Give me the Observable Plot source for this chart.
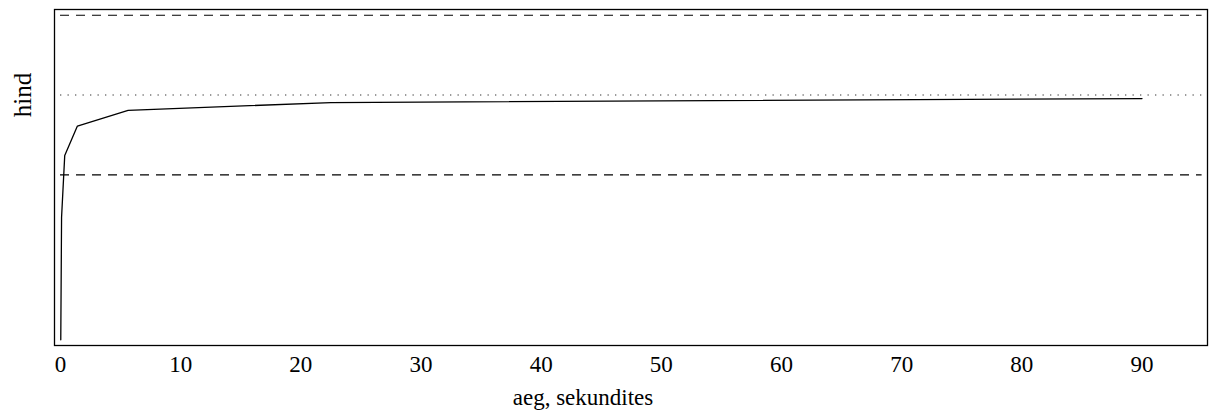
<!DOCTYPE html>
<html>
<head>
<meta charset="utf-8">
<script src="https://cdn.jsdelivr.net/npm/d3@7"></script>
<script src="https://cdn.jsdelivr.net/npm/@observablehq/plot@0.6"></script>
<style>
  html, body { margin: 0; padding: 0; background: white; }
</style>
</head>
<body>
<div id="chart"></div>
<script>
// Data
const times = [0.022, 0.088, 0.352, 1.406, 5.625, 22.5, 90];     // aeg, sekundites
const values = [-0.533, 0.235, 0.622, 0.806, 0.904, 0.953, 0.978]; // hind (relative units)
const targetValue = 1.0;          // dotted reference line
const boundValues = [0.5, 1.5];   // dashed bounds
const refLineSpan = [0, 95];      // x extent of the reference lines
const xTicks = [0, 10, 20, 30, 40, 50, 60, 70, 80, 90];
const xLabel = "aeg, sekundites";
const yLabel = "hind";

const series = times.map((t, i) => ({t, v: values[i]}));

const font = "'Liberation Serif', 'Times New Roman', serif";

const chart = Plot.plot({
  width: 1209,
  height: 416,
  marginLeft: 54,
  marginRight: 2,
  marginTop: 9,
  marginBottom: 71,
  style: {fontFamily: font, fontSize: "23px", background: "white", color: "black"},
  x: {domain: [-0.5, 95.45]},
  y: {domain: [-0.569, 1.536]},
  marks: [
    Plot.ruleY(boundValues, {x1: refLineSpan[0], x2: refLineSpan[1], stroke: "black", strokeWidth: 1.2, strokeDasharray: "9,7"}),
    Plot.ruleY([targetValue], {x1: refLineSpan[0], x2: refLineSpan[1], stroke: "#333", strokeWidth: 1.1, strokeDasharray: "1.3,6.2"}),
    Plot.line(series, {x: "t", y: "v", stroke: "black", strokeWidth: 1.3}),
    Plot.frame({stroke: "black", strokeWidth: 1.3}),
    Plot.axisX({ticks: xTicks, tickSize: 0, tickPadding: 10, tickFormat: d => String(d), label: null, fontSize: 23}),
    Plot.axisY({ticks: [], label: null}),
    Plot.text([xLabel], {frameAnchor: "bottom", dx: -48, dy: 52, text: d => d, fontSize: 23, lineAnchor: "middle", textAnchor: "middle"}),
    Plot.text([yLabel], {frameAnchor: "left", y: () => targetValue, dx: -32, text: d => d, fontSize: 25, rotate: -90, textAnchor: "middle", lineAnchor: "middle"})
  ]
});
document.getElementById("chart").appendChild(chart);
</script>
</body>
</html>
